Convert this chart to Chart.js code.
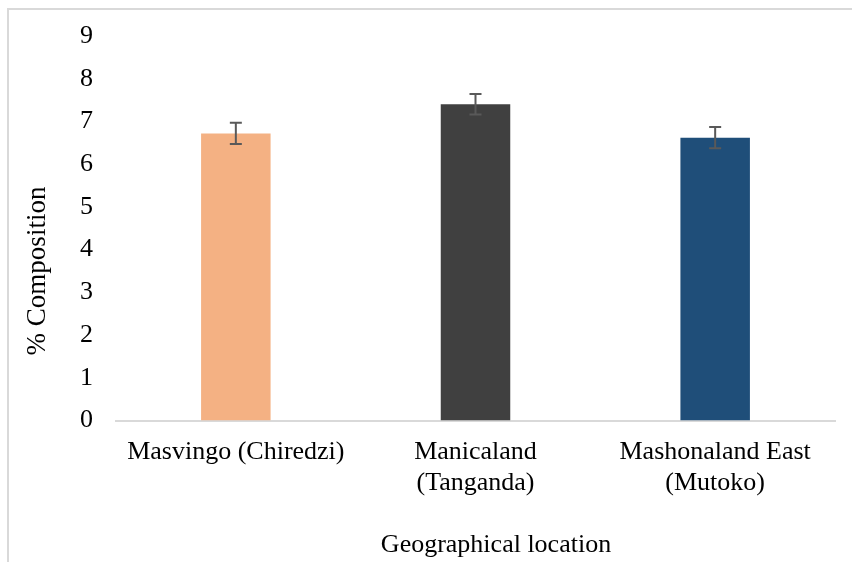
<!DOCTYPE html>
<html>
<head>
<meta charset="utf-8">
<script src="https://cdn.jsdelivr.net/npm/chart.js@4.4.1/dist/chart.umd.min.js"></script>
<style>
  html, body { margin: 0; padding: 0; background: #fff; }
  #wrap { width: 852px; height: 562px; position: relative; }
</style>
</head>
<body>
<div id="wrap"><canvas id="chart"></canvas></div>
<script>
  // Chart data
  const categories = [['Masvingo (Chiredzi)'], ['Manicaland', '(Tanganda)'], ['Mashonaland East', '(Mutoko)']];
  const values = [6.72, 7.40, 6.62];
  const errors = [0.25, 0.24, 0.25];
  const barColors = ['#F4B183', '#404040', '#1F4E79'];
  const yTicks = [0, 1, 2, 3, 4, 5, 6, 7, 8, 9];
  const yTitle = '% Composition';
  const xTitle = 'Geographical location';

  const FONT = '"Liberation Serif", "Times New Roman", serif';

  // Frame lines + axis titles + error bars
  const extras = {
    id: 'extras',
    beforeDraw: function (chart) {
      const ctx = chart.ctx;
      ctx.save();
      ctx.strokeStyle = '#d9d9d9';
      ctx.lineWidth = 2;
      ctx.beginPath();
      ctx.moveTo(8, 562);
      ctx.lineTo(8, 9);
      ctx.lineTo(852, 9);
      ctx.stroke();
      ctx.restore();
    },
    afterDatasetsDraw: function (chart) {
      const ctx = chart.ctx;
      const xs = chart.scales.x;
      const ys = chart.scales.y;
      ctx.save();
      ctx.strokeStyle = '#595959';
      ctx.lineWidth = 2;
      values.forEach(function (v, i) {
        const x = xs.getPixelForValue(i);
        const top = ys.getPixelForValue(v + errors[i]);
        const bot = ys.getPixelForValue(v - errors[i]);
        ctx.beginPath();
        ctx.moveTo(x, top);
        ctx.lineTo(x, bot);
        ctx.moveTo(x - 6, top);
        ctx.lineTo(x + 6, top);
        ctx.moveTo(x - 6, bot);
        ctx.lineTo(x + 6, bot);
        ctx.stroke();
      });
      ctx.restore();
    },
    afterDraw: function (chart) {
      const ctx = chart.ctx;
      ctx.save();
      ctx.fillStyle = '#000';
      ctx.font = '26px ' + FONT;
      ctx.textAlign = 'center';
      ctx.textBaseline = 'middle';
      ctx.fillText(xTitle, 496, 545);
      ctx.font = '27px ' + FONT;
      ctx.translate(38, 271);
      ctx.rotate(-Math.PI / 2);
      ctx.fillText(yTitle, 0, 0);
      ctx.restore();
    },
  };

  new Chart(document.getElementById('chart'), {
    type: 'bar',
    data: {
      labels: categories,
      datasets: [
        {
          data: values,
          backgroundColor: barColors,
          borderWidth: 0,
          barPercentage: 0.29,
          categoryPercentage: 1,
        },
      ],
    },
    options: {
      responsive: true,
      maintainAspectRatio: false,
      animation: false,
      layout: { padding: { top: 35, right: 17, left: 0, bottom: 0 } },
      plugins: {
        legend: { display: false },
        tooltip: { enabled: false },
      },
      scales: {
        x: {
          grid: { display: false, drawTicks: false },
          border: { display: true, color: '#d9d9d9', width: 2 },
          ticks: {
            color: '#000',
            font: { family: FONT, size: 26 },
            padding: 16,
            maxRotation: 0,
            autoSkip: false,
          },
          afterFit: function (scale) {
            scale.height = 141.5;
          },
        },
        y: {
          min: 0,
          max: 9,
          afterBuildTicks: function (scale) {
            scale.ticks = yTicks.map(function (v) { return { value: v }; });
          },
          grid: { display: false, drawTicks: false },
          border: { display: false },
          ticks: {
            color: '#000',
            font: { family: FONT, size: 26, lineHeight: 1 },
            padding: 23,
          },
          afterFit: function (scale) {
            scale.width = 116;
          },
        },
      },
    },
    plugins: [extras],
  });
</script>
</body>
</html>
